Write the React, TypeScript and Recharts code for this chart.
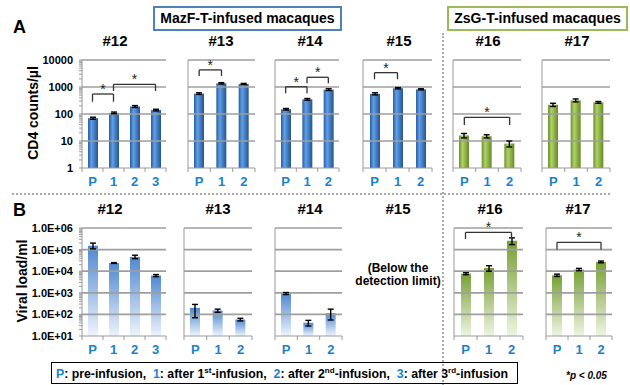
import React from "react";
import { BarChart, Bar, XAxis, YAxis, ErrorBar, ReferenceLine } from "recharts";

const FONT = "'Liberation Sans', Arial, sans-serif";
const BLUE_TXT = "#1b7fd0";

const cats4 = ["P", "1", "2", "3"];
const cats3 = ["P", "1", "2"];

// A: CD4 counts/µl
const cd4_12 = [70, 110, 190, 140];
const cd4_12Err = [6, 8, 15, 10];
const cd4_13 = [570, 1370, 1300];
const cd4_13Err = [40, 80, 60];
const cd4_14 = [150, 350, 800];
const cd4_14Err = [10, 25, 60];
const cd4_15 = [560, 900, 820];
const cd4_15Err = [50, 50, 40];
const cd4_16 = [16, 15, 8];
const cd4_16Err = [3, 2, 2];
const cd4_17 = [220, 320, 270];
const cd4_17Err = [30, 40, 20];

// B: viral load/ml  (errors as [minus, plus])
const vl_12 = [150000, 24000, 46000, 6300];
const vl_12Err = [[42000, 50000], [1000, 1000], [8000, 9000], [700, 700]];
const vl_13 = [200, 150, 58];
const vl_13Err = [[130, 90], [25, 25], [8, 8]];
const vl_14 = [930, 41, 115];
const vl_14Err = [[100, 100], [12, 12], [60, 60]];
const vl_16 = [7700, 14000, 260000];
const vl_16Err = [[800, 800], [4000, 4000], [90000, 90000]];
const vl_17 = [6500, 12000, 27000];
const vl_17Err = [[800, 800], [1500, 1500], [2500, 2500]];

const cd4Decades = [1, 10, 100, 1000, 10000];
const cd4Labels = ["1", "10", "100", "1000", "10000"];
const vlDecades = [10, 100, 1000, 10000, 100000, 1000000];
const vlLabels = ["1.0E+01", "1.0E+02", "1.0E+03", "1.0E+04", "1.0E+05", "1.0E+06"];

type Br = { a: string; b: string; top: number; leg: number };

const minorTicks = (dec: number[]) =>
  dec.slice(0, -1).flatMap((d) => [1, 2, 3, 4, 5, 6, 7, 8, 9].map((k) => k * d)).concat(dec[dec.length - 1]);

function XTick(props: any) {
  const { x, y, payload, last } = props;
  const off = payload.offset || 0;
  return (
    <g>
      <line x1={x - off} x2={x - off} y1={y} y2={y + 4} stroke="#999" />
      {payload.value === last && <line x1={x + off} x2={x + off} y1={y} y2={y + 4} stroke="#999" />}
      <text x={x} y={y + 18} textAnchor="middle" fill={BLUE_TXT} fontWeight="bold" fontSize={13} fontFamily={FONT}>
        {payload.value}
      </text>
    </g>
  );
}

function Panel(p: {
  x: number; y: number; w: number; h: number;
  cats: string[]; vals: number[]; errs: any[];
  kind: "A" | "B"; green?: boolean; showY?: boolean; brackets?: Br[];
}) {
  const dec = p.kind === "A" ? cd4Decades : vlDecades;
  const labels = p.kind === "A" ? cd4Labels : vlLabels;
  const data = p.cats.map((c, i) => ({ name: c, v: p.vals[i], e: p.errs[i] }));
  const yw = p.showY ? 60 : 8;
  const mt = 22;
  const gid = `${p.kind}${p.green ? "g" : "b"}`;
  return (
    <div style={{ position: "absolute", left: p.x - yw, top: p.y - mt }}>
      <BarChart width={yw + p.w + 4} height={mt + p.h + 26} data={data}
        margin={{ top: mt, right: 4, left: 0, bottom: 0 }} barSize={10} style={{ overflow: "visible" }}>
        <defs>
          <linearGradient id="Ab" x1="0" y1="0" x2="1" y2="0">
            <stop offset="0" stopColor="#2a5c9f" />
            <stop offset="0.35" stopColor="#5f9fe8" />
            <stop offset="1" stopColor="#25548f" />
          </linearGradient>
          <linearGradient id="Ag" x1="0" y1="0" x2="1" y2="0">
            <stop offset="0" stopColor="#6b8f2c" />
            <stop offset="0.35" stopColor="#afd364" />
            <stop offset="1" stopColor="#66892a" />
          </linearGradient>
          <linearGradient id="Bb" x1="0" y1="0" x2="0" y2="1">
            <stop offset="0" stopColor="#4f88d0" />
            <stop offset="1" stopColor="#eef4fc" />
          </linearGradient>
          <linearGradient id="Bg" x1="0" y1="0" x2="0" y2="1">
            <stop offset="0" stopColor="#76a034" />
            <stop offset="1" stopColor="#eef5e2" />
          </linearGradient>
        </defs>
        <XAxis dataKey="name" height={26} stroke="#999" tickLine={false} tickSize={0} tickMargin={0}
          tick={<XTick last={p.cats[p.cats.length - 1]} />} interval={0} />
        <YAxis type="number" scale="log" domain={[dec[0], dec[dec.length - 1]]} allowDataOverflow
          ticks={minorTicks(dec)} interval={0} width={yw} stroke="#999" tickSize={3} tickMargin={6}
          tick={p.showY ? { fontSize: 11, fontWeight: "bold", fill: "#000", fontFamily: FONT } : false}
          tickFormatter={(v: number) => {
            const i = dec.indexOf(v);
            return p.showY && i >= 0 ? labels[i] : "";
          }} />
        {dec.slice(1).map((d) => (
          <ReferenceLine key={d} y={d} stroke="#9e9e9e" strokeWidth={1.7} />
        ))}
        <Bar dataKey="v" fill={`url(#${gid})`} isAnimationActive={false}>
          <ErrorBar dataKey="e" width={3} stroke="#000" strokeWidth={1.4} />
        </Bar>
        {(p.brackets || []).flatMap((b, i) => [
          <ReferenceLine key={`h${i}`} segment={[{ x: b.a, y: b.top }, { x: b.b, y: b.top }]} stroke="#333"
            strokeWidth={1.3} ifOverflow="visible"
            label={{ value: "*", position: "top", offset: 0, fontSize: 14, fill: "#222", stroke: "none", fontFamily: FONT }} />,
          <ReferenceLine key={`l${i}`} segment={[{ x: b.a, y: b.top }, { x: b.a, y: b.leg }]} stroke="#333"
            strokeWidth={1.3} ifOverflow="visible" />,
          <ReferenceLine key={`r${i}`} segment={[{ x: b.b, y: b.top }, { x: b.b, y: b.leg }]} stroke="#333"
            strokeWidth={1.3} ifOverflow="visible" />,
        ])}
      </BarChart>
    </div>
  );
}

const T = (s: React.CSSProperties, t: React.ReactNode) => (
  <div style={{ position: "absolute", whiteSpace: "nowrap", fontFamily: FONT, fontWeight: "bold", ...s }}>{t}</div>
);

const sup = { fontSize: 8, lineHeight: 0 } as React.CSSProperties;

export default function App() {
  const AY = 60, AH = 108, BY = 228, BH = 108;
  const titleA = 32, titleB = 200;
  return (
    <div style={{ position: "absolute", left: 0, top: 0, width: 630, height: 385, background: "#fff", overflow: "hidden", fontFamily: FONT }}>
      {/* group boxes */}
      <div style={{ position: "absolute", left: 153, top: 6, width: 185, height: 21, border: "2px solid #4f81bd", textAlign: "center", lineHeight: "21px", fontWeight: "bold", fontSize: 14, whiteSpace: "nowrap" }}>MazF-T-infused macaques</div>
      <div style={{ position: "absolute", left: 447, top: 6, width: 177, height: 21, border: "2px solid #9bbb59", textAlign: "center", lineHeight: "21px", fontWeight: "bold", fontSize: 14, whiteSpace: "nowrap" }}>ZsG-T-infused macaques</div>

      {T({ left: 13, top: 17, fontSize: 18 }, "A")}
      {T({ left: 13, top: 200, fontSize: 18 }, "B")}

      {/* separators */}
      <div style={{ position: "absolute", left: 12, top: 193, width: 598, borderTop: "2px dotted #aaa" }} />
      <div style={{ position: "absolute", left: 442, top: 33, height: 352, borderLeft: "2px dotted #aaa" }} />

      {/* panel titles */}
      {[["#12", 115], ["#13", 221], ["#14", 310], ["#15", 399], ["#16", 488], ["#17", 577]].map(([t, x]) =>
        <React.Fragment key={"a" + t}>{T({ left: (x as number) - 30, width: 60, textAlign: "center", top: titleA, fontSize: 15 }, t)}</React.Fragment>)}
      {[["#12", 110], ["#13", 218], ["#14", 310], ["#15", 398], ["#16", 490], ["#17", 578]].map(([t, x]) =>
        <React.Fragment key={"b" + t}>{T({ left: (x as number) - 30, width: 60, textAlign: "center", top: titleB, fontSize: 15 }, t)}</React.Fragment>)}

      {/* axis titles */}
      {T({ left: 33, top: 113, fontSize: 14, transform: "translate(-50%,-50%) rotate(-90deg)" }, "CD4 counts/µl")}
      {T({ left: 22, top: 281, fontSize: 14, transform: "translate(-50%,-50%) rotate(-90deg)" }, "Viral load/ml")}

      {/* panel A */}
      <Panel x={82} y={AY} w={84} h={AH} cats={cats4} vals={cd4_12} errs={cd4_12Err} kind="A" showY
        brackets={[{ a: "P", b: "1", top: 550, leg: 285 }, { a: "1", b: "3", top: 1260, leg: 710 }]} />
      <Panel x={188} y={AY} w={67} h={AH} cats={cats3} vals={cd4_13} errs={cd4_13Err} kind="A"
        brackets={[{ a: "P", b: "1", top: 4300, leg: 2570 }]} />
      <Panel x={275} y={AY} w={64} h={AH} cats={cats3} vals={cd4_14} errs={cd4_14Err} kind="A"
        brackets={[{ a: "P", b: "1", top: 1020, leg: 590 }, { a: "1", b: "2", top: 2290, leg: 1370 }]} />
      <Panel x={363} y={AY} w={69} h={AH} cats={cats3} vals={cd4_15} errs={cd4_15Err} kind="A"
        brackets={[{ a: "P", b: "1", top: 3400, leg: 1940 }]} />
      <Panel x={453} y={AY} w={68} h={AH} cats={cats3} vals={cd4_16} errs={cd4_16Err} kind="A" green
        brackets={[{ a: "P", b: "2", top: 75, leg: 39 }]} />
      <Panel x={542} y={AY} w={68} h={AH} cats={cats3} vals={cd4_17} errs={cd4_17Err} kind="A" green />

      {/* panel B */}
      <Panel x={82} y={BY} w={84} h={BH} cats={cats4} vals={vl_12} errs={vl_12Err} kind="B" showY />
      <Panel x={184} y={BY} w={68} h={BH} cats={cats3} vals={vl_13} errs={vl_13Err} kind="B" />
      <Panel x={275} y={BY} w={67} h={BH} cats={cats3} vals={vl_14} errs={vl_14Err} kind="B" />
      <Panel x={454} y={BY} w={69} h={BH} cats={cats3} vals={vl_16} errs={vl_16Err} kind="B" green
        brackets={[{ a: "P", b: "2", top: 630000, leg: 310000 }]} />
      <Panel x={546} y={BY} w={66} h={BH} cats={cats3} vals={vl_17} errs={vl_17Err} kind="B" green
        brackets={[{ a: "P", b: "2", top: 218000, leg: 100000 }]} />

      {T({ left: 348, top: 262, width: 100, textAlign: "center", fontSize: 12, lineHeight: "13px" }, <>(Below the<br />detection limit)</>)}

      {/* legend */}
      <div style={{ position: "absolute", left: 51, top: 362, width: 467, height: 22, border: "1.5px solid #000", fontWeight: "bold", fontSize: 12.3, lineHeight: "22px", paddingLeft: 4, boxSizing: "border-box", whiteSpace: "nowrap" }}>
        <span style={{ color: BLUE_TXT }}>P</span>: pre-infusion,&nbsp; <span style={{ color: BLUE_TXT }}>1</span>: after 1<sup style={sup}>st</sup>-infusion,&nbsp; <span style={{ color: BLUE_TXT }}>2</span>: after 2<sup style={sup}>nd</sup>-infusion,&nbsp; <span style={{ color: BLUE_TXT }}>3</span>: after 3<sup style={sup}>rd</sup>-infusion
      </div>
      {T({ left: 566, top: 370, fontSize: 10, fontStyle: "italic" }, "*p < 0.05")}
    </div>
  );
}
